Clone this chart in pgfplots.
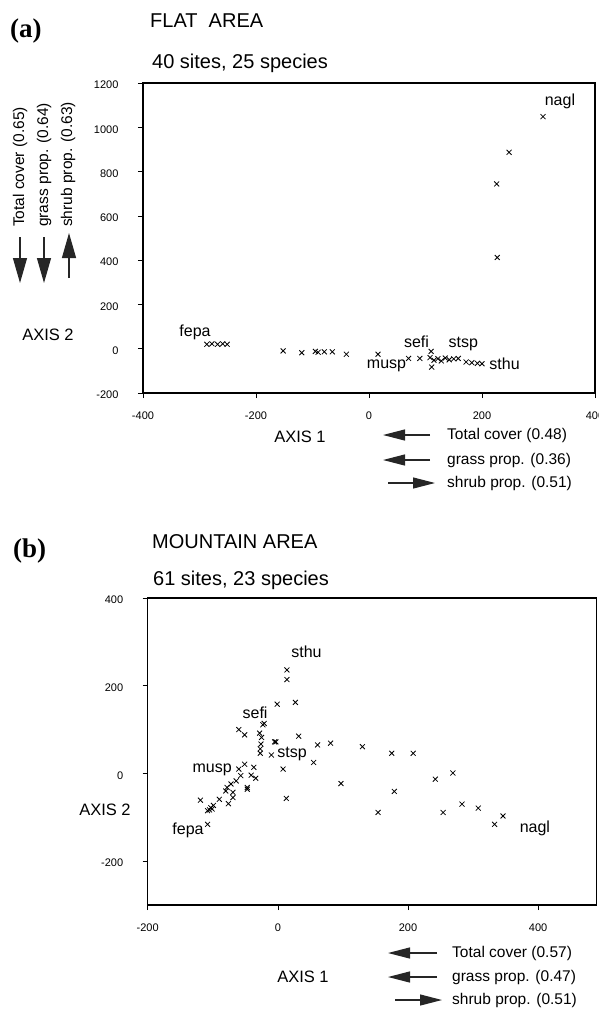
\documentclass[border=0pt]{standalone}
\usepackage{pgfplots}
\pgfplotsset{compat=1.18}
\usepackage{fontspec}
\setmainfont{Liberation Sans}
\newfontfamily\serifb{Liberation Serif}
\usetikzlibrary{arrows.meta}
\newcommand\fs[1]{\fontsize{#1}{#1}\selectfont}
\pgfplotsset{ord/.style={
  scale only axis, anchor=south west,
  axis line style={line width=1.2pt},
  tick pos=left, tick align=outside, major tick length=5pt,
  every tick/.style={black, line width=0.6pt},
  /pgf/number format/assume math mode=true,
  /pgf/number format/1000 sep={},
  ticklabel style={font=\fs{11}},
  xticklabel style={yshift=-10pt},
  yticklabel style={xshift=-16pt, yshift=-2pt},
  clip=false,
}}
\tikzset{crs/.style={only marks, mark=x, mark size=3.5pt, black, line width=0.8pt},
  lab/.style={font=\fs{16}},
  arr/.style={line width=1.2pt, black!85},
  ah/.style={-{Triangle[length=22pt,width=11pt]}},
  av/.style={-{Triangle[length=25pt,width=14pt]}}}
\begin{document}
\begin{tikzpicture}
\path[use as bounding box] (0,0) rectangle (598pt,-1012pt);
% ---------- panel (a)
\node[anchor=base west, font=\serifb\bfseries\fs{27}, inner sep=0] at (10pt,-37pt) {(a)};
\node[anchor=base west, font=\fs{20}, inner sep=0] at (150pt,-27pt) {FLAT\ \ AREA};
\node[anchor=base west, font=\fs{20}, inner sep=0] at (152pt,-68pt) {40 sites, 25 species};
\begin{axis}[ord, at={(143pt,-393pt)}, width=452pt, height=310pt,
  xmin=-400, xmax=400, ymin=-200, ymax=1200,
  xtick={-400,-200,0,200,400}, ytick={-200,0,200,400,600,800,1000,1200}]
\addplot[crs] coordinates {
(308,1048) (248,887) (226,744) (227,412)
(-287,20) (-278,22) (-268,20) (-259,22) (-251,20)
(-152,-10) (-119,-18) (-95,-12) (-90,-16) (-79,-14) (-65,-14) (-40,-25) (16,-25)
(70,-44) (90,-44) (110,-12) (111,-83)
(108,-40) (115,-52) (122,-45) (128,-55) (135,-42) (142,-50) (150,-46) (158,-44)
(172,-60) (182,-63) (192,-66) (200,-68)
};
\node[lab] at (axis cs:338,1118) {nagl};
\node[lab] at (axis cs:-308,72) {fepa};
\node[lab] at (axis cs:84,32) {sefi};
\node[lab] at (axis cs:167,20) {stsp};
\node[lab] at (axis cs:31,-78) {musp};
\node[lab] at (axis cs:240,-68) {sthu};
\end{axis}
\node[font=\fs{16.5}] at (48pt,-335pt) {AXIS 2};
\node[font=\fs{16.5}] at (300pt,-437pt) {AXIS 1};
\draw[arr,ah] (430pt,-435pt) -- (383pt,-435pt);
\draw[arr,ah] (430pt,-460pt) -- (383pt,-460pt);
\draw[arr,ah] (388pt,-483pt) -- (435pt,-483pt);
\node[anchor=west, font=\fs{15.5}, inner sep=0] at (447pt,-435pt) {Total cover (0.48)};
\node[anchor=west, font=\fs{15.5}, inner sep=0] at (447pt,-460pt) {grass prop. (0.36)};
\node[anchor=west, font=\fs{15.5}, inner sep=0] at (447pt,-483pt) {shrub prop. (0.51)};
\draw[arr,av] (20pt,-237pt) -- (20pt,-283pt);
\draw[arr,av] (44pt,-237pt) -- (44pt,-283pt);
\draw[arr,av] (69pt,-278pt) -- (69pt,-233pt);
\node[rotate=90, anchor=west, font=\fs{15.5}, inner sep=0] at (20pt,-227pt) {Total cover (0.65)};
\node[rotate=90, anchor=west, font=\fs{15.5}, inner sep=0] at (44pt,-227pt) {grass prop. (0.64)};
\node[rotate=90, anchor=west, font=\fs{15.5}, inner sep=0] at (68pt,-227pt) {shrub prop. (0.63)};
% ---------- panel (b)
\node[anchor=base west, font=\serifb\bfseries\fs{27}, inner sep=0] at (13pt,-557pt) {(b)};
\node[anchor=base west, font=\fs{20}, inner sep=0] at (152pt,-548pt) {MOUNTAIN AREA};
\node[anchor=base west, font=\fs{20}, inner sep=0] at (153pt,-585pt) {61 sites, 23 species};
\begin{axis}[ord, at={(147.7pt,-905pt)}, width=449pt, height=307pt,
  xmin=-200, xmax=490, ymin=-300, ymax=400,
  xtick={-200,0,200,400}, ytick={-200,0,200,400}]
\addplot[crs] coordinates {
(14,236) (14,214) (-1,158) (27,162) (-21,114) (-23,111) (-60,100) (-51,88)
(-28,92) (-25,82) (-26,67) (-5,72) (-3,72) (32,85) (61,65) (81,69) (130,61)
(175,46) (208,46) (-27,56) (-27,46) (-10,42) (55,25) (8,10) (-60,10) (-51,21)
(-37,14) (-57,-5) (-41,-4) (-34,-11) (-64,-17) (-72,-24) (-78,-32) (-47,-32)
(-47,-36) (-80,-40) (-69,-43) (-90,-59) (-69,-55) (-76,-69) (-119,-61)
(-103,-78) (-108,-85) (-101,-81) (-99,-73) (-105,-83) (-108,-116) (13,-57)
(97,-23) (179,-41) (154,-89) (242,-13) (269,1) (283,-70) (308,-79) (254,-89)
(333,-116) (346,-97)
};
\node[lab] at (axis cs:44,277) {sthu};
\node[lab] at (axis cs:-35,138) {sefi};
\node[lab] at (axis cs:22,44) {stsp};
\node[lab] at (axis cs:-101,8) {musp};
\node[lab] at (axis cs:-138,-130) {fepa};
\node[lab] at (axis cs:395,-125) {nagl};
\end{axis}
\node[font=\fs{16.5}] at (105pt,-810pt) {AXIS 2};
\node[font=\fs{16.5}] at (303pt,-977pt) {AXIS 1};
\draw[arr,ah] (437pt,-953pt) -- (388pt,-953pt);
\draw[arr,ah] (437pt,-977pt) -- (388pt,-977pt);
\draw[arr,ah] (395pt,-1000pt) -- (442pt,-1000pt);
\node[anchor=west, font=\fs{15.5}, inner sep=0] at (452pt,-953pt) {Total cover (0.57)};
\node[anchor=west, font=\fs{15.5}, inner sep=0] at (452pt,-977pt) {grass prop. (0.47)};
\node[anchor=west, font=\fs{15.5}, inner sep=0] at (452pt,-1000pt) {shrub prop. (0.51)};
\end{tikzpicture}
\end{document}
